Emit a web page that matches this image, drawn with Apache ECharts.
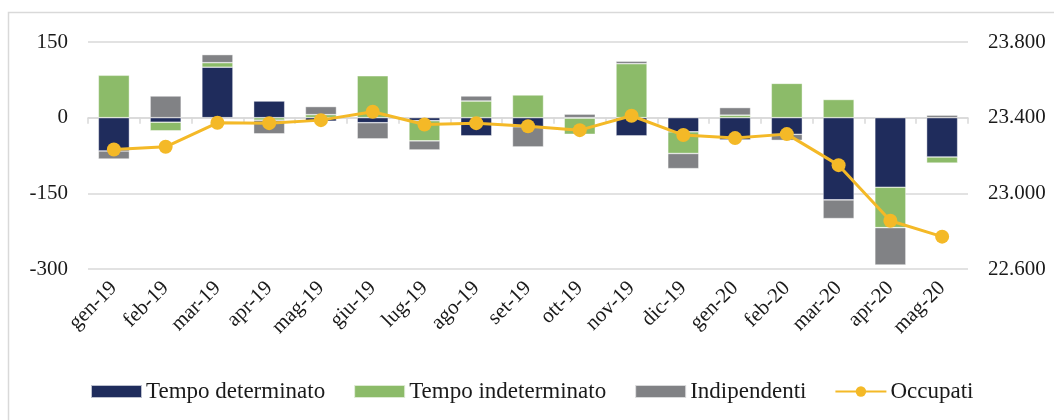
<!DOCTYPE html>
<html>
<head>
<meta charset="utf-8">
<script src="https://cdn.jsdelivr.net/npm/echarts@6/dist/echarts.min.js"></script>
<style>
  html, body { margin: 0; padding: 0; background: #fff; }
  #chart { width: 1054px; height: 420px; }
</style>
</head>
<body>
<div id="chart"></div>
<script>
// categorie (mesi)
const months = ['gen-19', 'feb-19', 'mar-19', 'apr-19', 'mag-19', 'giu-19', 'lug-19', 'ago-19', 'set-19',
  'ott-19', 'nov-19', 'dic-19', 'gen-20', 'feb-20', 'mar-20', 'apr-20', 'mag-20'];
// variazioni (migliaia)
const tempoDeterminato = [-66, -9, 100, 33, -7, -10, -6, -36, -18, -1, -36, -28, -44, -33, -163, -138, -78];
const tempoIndeterminato = [84, -17, 9, -5, 6, 83, -40, 33, 45, -32, 107, -43, 5, 68, 36, -80, -12];
const indipendenti = [-16, 43, 16, -27, 16, -32, -18, 10, -40, 7, 5, -30, 15, -12, -37, -74, 5];
// occupati (migliaia)
const occupati = [23232, 23246, 23373, 23371, 23387, 23431, 23364, 23371, 23355, 23334, 23410, 23308,
  23292, 23313, 23149, 22855, 22771];

const chart = echarts.init(document.getElementById('chart'));
const font = "'Liberation Serif', 'DejaVu Serif', serif";
const textColor = '#1a1a1a';
const lineColor = '#d9d9d9';

const barItem = color => ({ color: color, borderColor: 'rgba(255,255,255,0.7)', borderWidth: 0.6 });

const option = {
  animation: false,
  textStyle: { fontFamily: font },
  graphic: [
    {
      type: 'rect',
      shape: { x: 8.5, y: 12.5, width: 1100, height: 500 },
      style: { fill: 'none', stroke: lineColor, lineWidth: 1.5 },
      silent: true
    }
  ],
  legend: {
    top: 380,
    left: 90,
    padding: 0,
    itemWidth: 51,
    itemHeight: 13,
    itemGap: 28,
    textStyle: { fontFamily: font, fontSize: 23, color: textColor, padding: [0, 0, 0, -1] },
    data: [
      { name: 'Tempo determinato', icon: 'rect' },
      { name: 'Tempo indeterminato', icon: 'rect' },
      { name: 'Indipendenti', icon: 'rect' },
      { name: 'Occupati' }
    ]
  },
  grid: { left: 88, right: 86, top: 42, bottom: 151 },
  xAxis: [
    {
      type: 'category',
      data: months,
      axisLine: { show: false, onZero: false },
      axisTick: { show: false },
      axisLabel: {
        rotate: 45,
        interval: 0,
        fontFamily: font,
        fontSize: 21,
        color: textColor,
        margin: 16
      }
    },
    {
      type: 'category',
      data: months,
      position: 'bottom',
      axisLine: { onZero: true, onZeroAxisIndex: 0, lineStyle: { color: lineColor, width: 1.5 } },
      axisTick: { show: true, length: 6, lineStyle: { color: lineColor, width: 1.5 } },
      axisLabel: { show: false }
    }
  ],
  yAxis: [
    {
      type: 'value',
      min: -300,
      max: 150,
      interval: 150,
      axisLine: { show: false },
      axisTick: { show: false },
      splitLine: { lineStyle: { color: lineColor, width: 1.5 } },
      axisLabel: { fontFamily: font, fontSize: 21, color: textColor, margin: 20 }
    },
    {
      type: 'value',
      min: 22600,
      max: 23800,
      interval: 400,
      axisLine: { show: false },
      axisTick: { show: false },
      splitLine: { show: false },
      axisLabel: {
        fontFamily: font,
        fontSize: 21,
        color: textColor,
        margin: 20,
        formatter: v => (v / 1000).toFixed(3)
      }
    }
  ],
  series: [
    {
      name: 'Tempo determinato',
      type: 'bar',
      stack: 'tot',
      barWidth: '60%',
      itemStyle: barItem('#1f2c5c'),
      data: tempoDeterminato
    },
    {
      name: 'Tempo indeterminato',
      type: 'bar',
      stack: 'tot',
      itemStyle: barItem('#8cbb69'),
      data: tempoIndeterminato
    },
    {
      name: 'Indipendenti',
      type: 'bar',
      stack: 'tot',
      itemStyle: barItem('#818285'),
      data: indipendenti
    },
    {
      name: 'Occupati',
      type: 'line',
      yAxisIndex: 1,
      symbol: 'circle',
      symbolSize: 14,
      z: 5,
      lineStyle: { color: '#f4b927', width: 3 },
      itemStyle: { color: '#f4b927' },
      data: occupati
    }
  ]
};

chart.setOption(option);
</script>
</body>
</html>
